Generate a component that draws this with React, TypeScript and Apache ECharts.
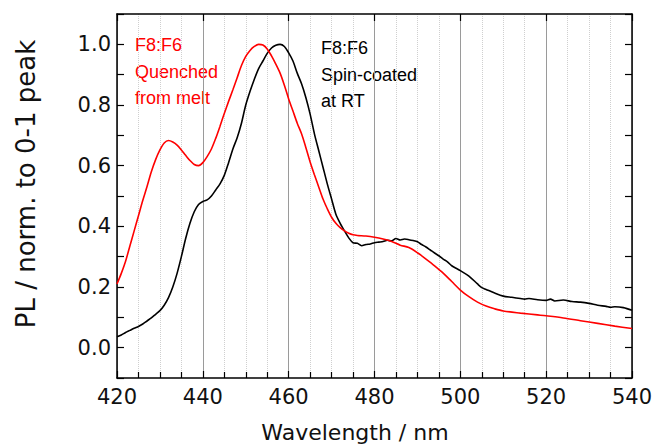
import React, { useEffect, useRef } from "react";
import * as echarts from "echarts";

const redWavelengths = [
  420, 421, 422, 423, 424, 425, 426, 427, 428, 429, 430, 431, 432, 433, 434, 435, 436, 437, 438, 439,
  440, 441, 442, 443, 444, 445, 446, 447, 448, 449, 450, 451, 452, 453, 454, 455, 456, 457, 458, 459,
  460, 461, 462, 463, 464, 465, 466, 467, 468, 469, 470, 471, 472, 473, 474, 475, 476, 478, 480, 482,
  484, 486, 488, 490, 492, 494, 496, 498, 500, 502, 504, 506, 508, 510, 514, 518, 520, 524, 528, 532,
  536, 540,
];
const redValues = [
  0.21, 0.245, 0.285, 0.335, 0.385, 0.435, 0.485, 0.531, 0.58, 0.62, 0.652, 0.675, 0.683, 0.678, 0.668, 0.652, 0.634, 0.617, 0.604, 0.6,
  0.61, 0.63, 0.655, 0.69, 0.73, 0.772, 0.812, 0.85, 0.89, 0.93, 0.96, 0.98, 0.993, 1.0, 0.998, 0.985, 0.962, 0.935, 0.905, 0.865,
  0.82, 0.78, 0.74, 0.705, 0.66, 0.612, 0.57, 0.53, 0.49, 0.458, 0.43, 0.41, 0.396, 0.385, 0.377, 0.372, 0.37, 0.368, 0.364, 0.358,
  0.35, 0.338, 0.33, 0.313, 0.292, 0.27, 0.246, 0.218, 0.19, 0.168, 0.15, 0.137, 0.128, 0.121, 0.114, 0.108, 0.105, 0.098, 0.089, 0.08,
  0.071, 0.063,
];

const blackWavelengths = [
  420, 421, 422, 423, 424, 425, 426, 427, 428, 429, 430, 431, 432, 433, 434, 435, 436, 437, 438, 439,
  440, 441, 442, 443, 444, 445, 446, 447, 448, 449, 450, 451, 452, 453, 454, 455, 456, 457, 458, 459,
  460, 461, 462, 463, 464, 465, 466, 467, 468, 469, 470, 471, 472, 473, 474, 475, 476, 477, 478, 479,
  480, 481, 482, 483, 484, 485, 486, 487, 488, 489, 490, 491, 492, 493, 494, 495, 496, 497, 498, 499,
  500, 502, 504, 505, 506, 508, 510, 512, 514, 515, 516, 518, 520, 521, 522, 524, 526, 528, 530, 532,
  534, 535, 536, 538, 540,
];
const blackValues = [
  0.036, 0.042, 0.05, 0.057, 0.064, 0.07, 0.078, 0.088, 0.098, 0.11, 0.122, 0.14, 0.165, 0.2, 0.245, 0.3, 0.36, 0.41, 0.448, 0.472,
  0.482, 0.487, 0.5, 0.52, 0.54, 0.568, 0.61, 0.655, 0.692, 0.74, 0.8, 0.845, 0.885, 0.92, 0.945, 0.97, 0.988, 0.997, 1.0, 0.993,
  0.972, 0.945, 0.905, 0.87, 0.825, 0.77, 0.705, 0.65, 0.595, 0.54, 0.49, 0.44, 0.41, 0.385, 0.362, 0.346, 0.344, 0.336, 0.34, 0.342,
  0.346, 0.348, 0.35, 0.354, 0.352, 0.36, 0.355, 0.358, 0.356, 0.353, 0.349, 0.34, 0.332, 0.322, 0.312, 0.303, 0.292, 0.283, 0.27, 0.262,
  0.254, 0.236, 0.21, 0.198, 0.192, 0.18, 0.17, 0.166, 0.162, 0.16, 0.162, 0.158, 0.156, 0.16, 0.154, 0.157, 0.152, 0.15, 0.146, 0.14,
  0.136, 0.133, 0.135, 0.132, 0.123,
];

const redLabel = ["F8:F6", "Quenched", "from melt"];
const blackLabel = ["F8:F6", "Spin-coated", "at RT"];

export default function App() {
  const ref = useRef<HTMLDivElement>(null);
  useEffect(() => {
    if (!ref.current) return;
    const chart = echarts.init(ref.current, null, { renderer: "svg" });
    const tickFont = { fontFamily: "DejaVu Sans", fontSize: 21, color: "#111" };
    const axisLine = { show: true, onZero: false, lineStyle: { color: "#000", width: 1.5 } };
    chart.setOption({
      animation: false,
      backgroundColor: "#fff",
      grid: { left: 117, right: 25, top: 14, bottom: 68, containLabel: false },
      xAxis: [
        {
          type: "value",
          min: 420,
          max: 540,
          interval: 20,
          position: "bottom",
          axisLine,
          axisTick: { show: true, inside: true, length: 7, lineStyle: { color: "#000", width: 1.2 } },
          minorTick: { show: true, splitNumber: 4, length: 6, lineStyle: { color: "#000", width: 1.2 } },
          splitLine: { show: true, lineStyle: { color: "#9a9a9a", width: 1 } },
          minorSplitLine: { show: true, lineStyle: { color: "#cfcfcf", width: 1, type: "dotted" } },
          axisLabel: { ...tickFont, margin: 8 },
        },
        {
          type: "value",
          min: 420,
          max: 540,
          interval: 20,
          position: "top",
          axisLine,
          axisTick: { show: true, inside: true, length: 7, lineStyle: { color: "#000", width: 1.2 } },
          axisLabel: { show: false },
          splitLine: { show: false },
        },
      ],
      yAxis: [
        {
          type: "value",
          min: -0.1,
          max: 1.1,
          interval: 0.1,
          position: "left",
          axisLine,
          axisTick: { show: true, inside: true, length: 7, lineStyle: { color: "#000", width: 1.2 } },
          splitLine: { show: false },
          axisLabel: {
            ...tickFont,
            margin: 6,
            formatter: (v: number) => {
              const r = Math.round(v * 10);
              return r >= 0 && r % 2 === 0 ? (r / 10).toFixed(1) : "";
            },
          },
        },
        {
          type: "value",
          min: -0.1,
          max: 1.1,
          interval: 0.1,
          position: "right",
          axisLine,
          axisTick: { show: true, inside: true, length: 7, lineStyle: { color: "#000", width: 1.2 } },
          splitLine: { show: false },
          axisLabel: { show: false },
        },
      ],
      series: [
        {
          type: "line",
          name: "Spin-coated at RT",
          xAxisIndex: 0,
          yAxisIndex: 0,
          showSymbol: false,
          smooth: 0.3,
          lineStyle: { color: "#000", width: 1.6 },
          data: blackWavelengths.map((w, i) => [w, blackValues[i]]),
          z: 3,
        },
        {
          type: "line",
          name: "Quenched from melt",
          xAxisIndex: 0,
          yAxisIndex: 0,
          showSymbol: false,
          smooth: 0.3,
          lineStyle: { color: "#ff0000", width: 1.6 },
          data: redWavelengths.map((w, i) => [w, redValues[i]]),
          z: 4,
        },
      ],
      graphic: [
        ...redLabel.map((t, i) => ({
          type: "text",
          left: 135,
          top: 36 + i * 26.5,
          style: { text: t, fill: "#ff0000", font: "18px 'Liberation Sans'" },
        })),
        ...blackLabel.map((t, i) => ({
          type: "text",
          left: 321,
          top: 39 + i * 26.5,
          style: { text: t, fill: "#000", font: "18px 'Liberation Sans'" },
        })),
        {
          type: "text",
          x: 355,
          y: 432,
          style: {
            text: "Wavelength / nm",
            fill: "#111",
            font: "22px 'DejaVu Sans'",
            align: "center",
            verticalAlign: "middle",
          },
        },
        {
          type: "text",
          x: 26,
          y: 184,
          rotation: Math.PI / 2,
          style: {
            text: "PL / norm. to 0-1 peak",
            fill: "#111",
            font: "26px 'DejaVu Sans'",
            align: "center",
            verticalAlign: "middle",
          },
        },
      ],
    });
    return () => chart.dispose();
  }, []);
  return <div ref={ref} style={{ position: "fixed", left: 0, top: 0, width: 657, height: 446 }} />;
}
